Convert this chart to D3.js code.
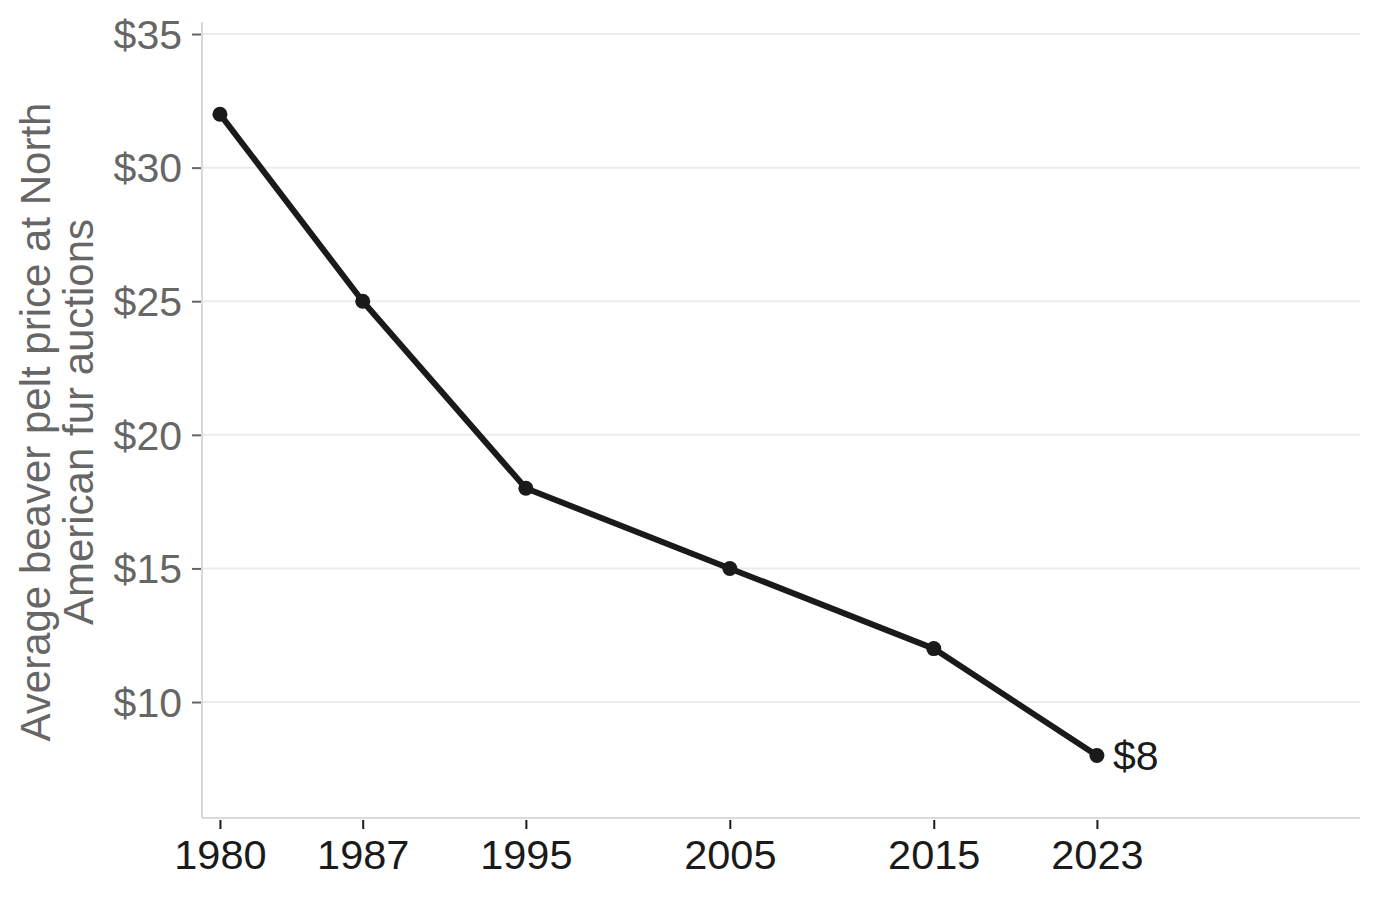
<!DOCTYPE html>
<html>
<head>
<meta charset="utf-8">
<script src="https://cdn.jsdelivr.net/npm/d3@7"></script>
<style>
  html, body { margin: 0; padding: 0; background: #fff; }
  svg { display: block; font-family: "Liberation Sans", Arial, Helvetica, sans-serif; }
</style>
</head>
<body>
<svg id="chart" width="1380" height="897"></svg>
<script>
const years = [1980, 1987, 1995, 2005, 2015, 2023];
const prices = [32, 25, 18, 15, 12, 8];
const yTicks = [10, 15, 20, 25, 30, 35];
const yTitleLines = ["Average beaver pelt price at North", "American fur auctions"];

const svg = d3.select("#chart");
const pLeft = 202, pRight = 1360, pTop = 22, pBottom = 818;

const x = d3.scaleLinear().domain([1979.12, 2035.9]).range([pLeft, pRight]);
const y = d3.scaleLinear().domain([5.66, 35.45]).range([pBottom, pTop]);

// gridlines
svg.append("g").selectAll("line").data(yTicks).join("line")
  .attr("x1", pLeft).attr("x2", pRight)
  .attr("y1", d => y(d)).attr("y2", d => y(d))
  .attr("stroke", "#ebebeb").attr("stroke-width", 2);

// axis lines
svg.append("line").attr("x1", pLeft).attr("x2", pLeft).attr("y1", pTop).attr("y2", pBottom)
  .attr("stroke", "#d9d9d9").attr("stroke-width", 2);
svg.append("line").attr("x1", pLeft).attr("x2", pRight).attr("y1", pBottom).attr("y2", pBottom)
  .attr("stroke", "#d9d9d9").attr("stroke-width", 2);

// y axis
const yAxis = d3.axisLeft(y).tickValues(yTicks).tickFormat(d => "$" + d).tickSize(9).tickPadding(10);
const gy = svg.append("g").attr("transform", `translate(${pLeft - 1},0)`).call(yAxis);
gy.select(".domain").remove();
gy.selectAll(".tick line").attr("stroke", "#666").attr("stroke-width", 2);
gy.selectAll(".tick text").attr("fill", "#666").attr("font-size", 41)
  .attr("font-family", "Liberation Sans, Arial, sans-serif").attr("dy", "0.35em");

// x axis
const xAxis = d3.axisBottom(x).tickValues(years).tickFormat(d3.format("d")).tickSize(9).tickPadding(11);
const gx = svg.append("g").attr("transform", `translate(0,${pBottom + 2})`).call(xAxis);
gx.select(".domain").remove();
gx.selectAll(".tick line").attr("stroke", "#1a1a1a").attr("stroke-width", 2);
gx.selectAll(".tick text").attr("fill", "#1a1a1a").attr("font-size", 41.5)
  .attr("font-family", "Liberation Sans, Arial, sans-serif");

// y title
const title = svg.append("text")
  .attr("transform", `translate(0,${(pTop + pBottom) / 2 + 2}) rotate(-90)`)
  .attr("text-anchor", "middle")
  .attr("fill", "#666").attr("font-size", 42);
title.selectAll("tspan").data(yTitleLines).join("tspan")
  .attr("x", 0).attr("y", (d, i) => 50 + i * 43).text(d => d);

// line
const data = years.map((yr, i) => ({ yr, v: prices[i] }));
svg.append("path").datum(data)
  .attr("fill", "none").attr("stroke", "#1a1a1a").attr("stroke-width", 6)
  .attr("stroke-linejoin", "round")
  .attr("d", d3.line().x(d => x(d.yr)).y(d => y(d.v)));

svg.append("g").selectAll("circle").data(data).join("circle")
  .attr("cx", d => x(d.yr)).attr("cy", d => y(d.v)).attr("r", 7.5).attr("fill", "#1a1a1a");

// end label
const last = data[data.length - 1];
svg.append("text").attr("x", x(last.yr) + 16).attr("y", y(last.v)).attr("dy", "0.35em")
  .attr("fill", "#1a1a1a").attr("font-size", 41).text("$" + last.v);
</script>
</body>
</html>
